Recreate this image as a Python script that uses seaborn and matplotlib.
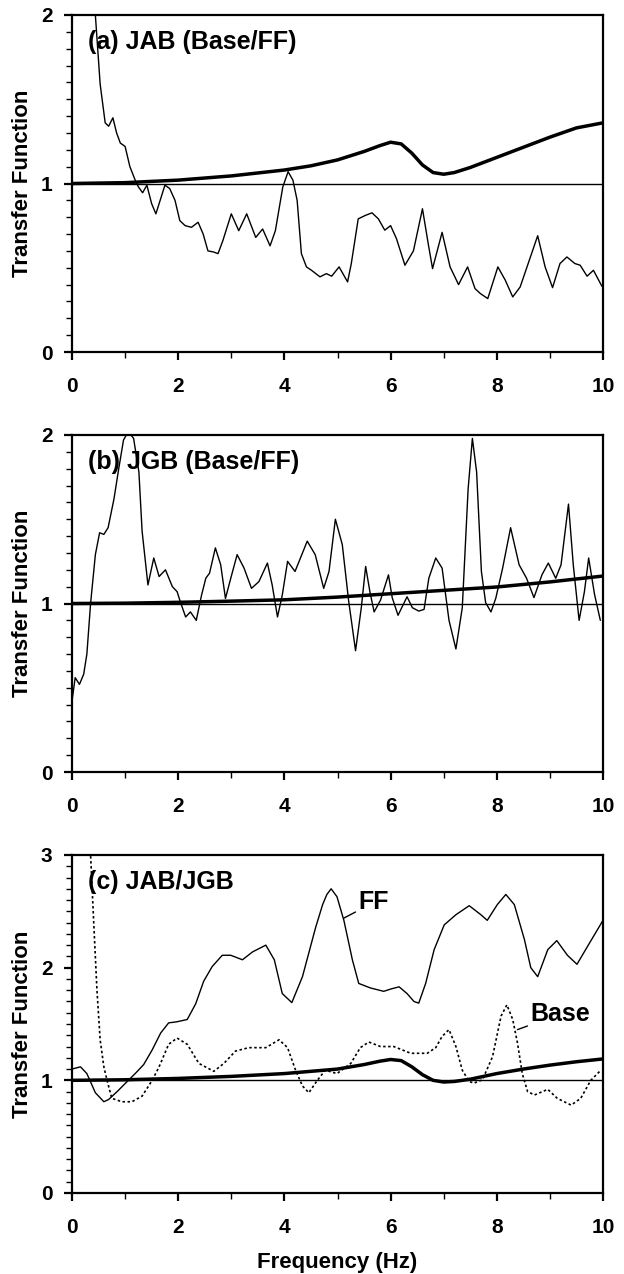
import numpy as np
import pandas as pd
import matplotlib
matplotlib.use("Agg")
import matplotlib.pyplot as plt
from matplotlib.ticker import MultipleLocator
import seaborn as sns

# (a) JAB - measured Base/FF ratio (thin) and model (thick)
a_meas_f = [0.35, 0.44, 0.53, 0.625, 0.69, 0.77, 0.84, 0.91, 1.0, 1.09, 1.19, 1.25, 1.33, 1.41, 1.5,
            1.58, 1.66, 1.75, 1.84, 1.94, 2.03, 2.13, 2.25, 2.375, 2.47, 2.56, 2.66, 2.75, 2.84, 3.0,
            3.14, 3.29, 3.46, 3.59, 3.73, 3.83, 3.97, 4.07, 4.16, 4.24, 4.32, 4.415, 4.51, 4.67, 4.79,
            4.89, 5.03, 5.19, 5.26, 5.39, 5.52, 5.65, 5.77, 5.89, 6.0, 6.11, 6.27, 6.43, 6.6, 6.71,
            6.79, 6.97, 7.12, 7.28, 7.45, 7.59, 7.69, 7.83, 8.02, 8.16, 8.3, 8.44, 8.77, 8.91, 9.05,
            9.19, 9.32, 9.47, 9.57, 9.7, 9.82, 9.98]
a_meas_tf = [2.35, 2.0, 1.59, 1.36, 1.34, 1.39, 1.30, 1.24, 1.22, 1.10, 1.02, 0.98, 0.945, 0.99, 0.88,
             0.82, 0.90, 0.99, 0.97, 0.90, 0.78, 0.75, 0.74, 0.77, 0.70, 0.60, 0.594, 0.584, 0.66, 0.82,
             0.72, 0.82, 0.68, 0.73, 0.63, 0.72, 0.98, 1.07, 1.02, 0.90, 0.584, 0.505, 0.485, 0.446, 0.465,
             0.45, 0.505, 0.416, 0.525, 0.79, 0.81, 0.826, 0.79, 0.723, 0.75, 0.673, 0.515, 0.60, 0.85, 0.64,
             0.495, 0.71, 0.505, 0.40, 0.505, 0.376, 0.347, 0.317, 0.505, 0.426, 0.327, 0.386, 0.69, 0.505, 0.382,
             0.525, 0.564, 0.525, 0.515, 0.45, 0.485, 0.39]
a_model_f = [0, 1, 2, 3, 4, 4.5, 5, 5.5, 5.8, 6.0, 6.2, 6.4, 6.6, 6.8, 7.0, 7.2, 7.5, 8, 8.5, 9, 9.5, 10]
a_model_tf = [1.0, 1.005, 1.02, 1.045, 1.08, 1.105, 1.14, 1.19, 1.225, 1.245, 1.235, 1.18, 1.11, 1.065,
              1.055, 1.065, 1.095, 1.155, 1.215, 1.275, 1.33, 1.36]

# (b) JGB
b_meas_f = [0.0, 0.06, 0.14, 0.22, 0.28, 0.35, 0.44, 0.52, 0.6, 0.68, 0.79, 0.88, 0.97, 1.06, 1.16,
            1.26, 1.32, 1.43, 1.54, 1.64, 1.76, 1.89, 1.98, 2.04, 2.14, 2.23, 2.34, 2.44, 2.52, 2.59,
            2.7, 2.8, 2.89, 2.99, 3.11, 3.24, 3.38, 3.52, 3.68, 3.77, 3.87, 3.96, 4.06, 4.2, 4.43,
            4.58, 4.74, 4.84, 4.96, 5.09, 5.21, 5.34, 5.45, 5.53, 5.61, 5.69, 5.81, 5.96, 6.03, 6.14,
            6.31, 6.41, 6.53, 6.63, 6.72, 6.85, 6.97, 7.1, 7.23, 7.35, 7.46, 7.54, 7.62, 7.71, 7.79,
            7.89, 7.98, 8.11, 8.26, 8.42, 8.56, 8.7, 8.85, 8.97, 9.11, 9.21, 9.35, 9.44, 9.55, 9.65,
            9.73, 9.84, 9.95]
b_meas_tf = [0.42, 0.56, 0.52, 0.58, 0.70, 1.0, 1.29, 1.42, 1.41, 1.45, 1.62, 1.80, 1.97, 2.02, 1.98,
             1.78, 1.43, 1.11, 1.27, 1.16, 1.20, 1.10, 1.07, 1.01, 0.92, 0.95, 0.90, 1.05, 1.15, 1.18,
             1.33, 1.23, 1.03, 1.15, 1.29, 1.21, 1.09, 1.13, 1.24, 1.11, 0.92, 1.05, 1.25, 1.19, 1.37,
             1.29, 1.09, 1.19, 1.50, 1.35, 1.015, 0.72, 0.98, 1.22, 1.07, 0.95, 1.02, 1.17, 1.035, 0.93,
             1.04, 0.975, 0.955, 0.965, 1.15, 1.27, 1.21, 0.90, 0.73, 0.975, 1.68, 1.98, 1.78, 1.19, 1.005,
             0.95, 1.03, 1.21, 1.45, 1.23, 1.15, 1.035, 1.17, 1.24, 1.15, 1.23, 1.59, 1.23, 0.90, 1.07,
             1.27, 1.055, 0.90]
b_model_f = [0, 1, 2, 3, 4, 5, 6, 7, 8, 9, 10]
b_model_tf = [1.0, 1.002, 1.007, 1.014, 1.022, 1.038, 1.058, 1.078, 1.098, 1.128, 1.163]

# (c) JAB/JGB
c_ff_f = [0.0, 0.16, 0.28, 0.44, 0.6, 0.69, 0.85, 1.04, 1.19, 1.35, 1.51, 1.67, 1.82, 1.98, 2.17,
          2.33, 2.48, 2.64, 2.83, 2.99, 3.21, 3.4, 3.65, 3.81, 3.96, 4.14, 4.34, 4.59, 4.72, 4.8,
          4.88, 4.99, 5.12, 5.28, 5.4, 5.62, 5.87, 6.0, 6.16, 6.31, 6.44, 6.53, 6.66, 6.82, 7.01,
          7.23, 7.48, 7.7, 7.82, 8.01, 8.17, 8.33, 8.52, 8.64, 8.77, 8.96, 9.13, 9.33, 9.51, 9.71, 10.0]
c_ff_tf = [1.10, 1.12, 1.06, 0.89, 0.81, 0.83, 0.90, 0.99, 1.06, 1.14, 1.27, 1.42, 1.51, 1.52, 1.54,
           1.68, 1.88, 2.01, 2.11, 2.11, 2.07, 2.14, 2.20, 2.07, 1.77, 1.69, 1.92, 2.36, 2.56, 2.65,
           2.70, 2.63, 2.42, 2.07, 1.86, 1.82, 1.79, 1.81, 1.83, 1.77, 1.70, 1.685, 1.86, 2.16, 2.38,
           2.47, 2.55, 2.47, 2.42, 2.56, 2.65, 2.56, 2.25, 2.00, 1.92, 2.16, 2.24, 2.11, 2.03, 2.19, 2.42]
c_base_f = [0.3, 0.35, 0.41, 0.47, 0.53, 0.6, 0.66, 0.75, 0.94, 1.13, 1.32, 1.51, 1.64, 1.82, 1.98,
            2.17, 2.39, 2.67, 2.86, 3.08, 3.33, 3.65, 3.9, 4.06, 4.21, 4.34, 4.46, 4.62, 4.77, 4.99,
            5.25, 5.43, 5.59, 5.81, 6.06, 6.38, 6.69, 6.85, 6.97, 7.1, 7.23, 7.35, 7.48, 7.57, 7.73,
            7.92, 8.08, 8.19, 8.3, 8.39, 8.48, 8.58, 8.71, 8.96, 9.14, 9.4, 9.58, 9.77, 9.96]
c_base_tf = [3.3, 3.0, 2.39, 1.80, 1.36, 1.12, 1.0, 0.84, 0.81, 0.81, 0.86, 1.0, 1.12, 1.32, 1.375,
             1.32, 1.15, 1.08, 1.15, 1.26, 1.29, 1.29, 1.36, 1.29, 1.09, 0.95, 0.89, 1.0, 1.09, 1.06,
             1.15, 1.29, 1.34, 1.30, 1.30, 1.24, 1.24, 1.29, 1.39, 1.45, 1.30, 1.09, 0.99, 0.975, 1.005,
             1.21, 1.57, 1.67, 1.54, 1.33, 1.06, 0.90, 0.87, 0.92, 0.84, 0.78, 0.84, 1.0, 1.09]
c_model_f = [0, 1, 2, 3, 4, 4.5, 5, 5.5, 5.8, 6.0, 6.2, 6.4, 6.6, 6.8, 7.0, 7.2, 7.5, 8, 8.5, 9, 9.5, 10]
c_model_tf = [1.0, 1.005, 1.017, 1.035, 1.06, 1.08, 1.10, 1.14, 1.17, 1.185, 1.175, 1.12, 1.05, 1.0,
              0.985, 0.99, 1.01, 1.06, 1.10, 1.135, 1.165, 1.19]

panel_titles = ["(a) JAB (Base/FF)", "(b) JGB (Base/FF)", "(c) JAB/JGB"]

sns.set_style("ticks")
plt.rcParams['font.family'] = ['Liberation Sans', 'DejaVu Sans']
plt.rcParams['font.weight'] = 'bold'
plt.rcParams['axes.linewidth'] = 1.6
plt.rcParams['text.color'] = 'black'
plt.rcParams['axes.labelcolor'] = 'black'
plt.rcParams['xtick.color'] = 'black'
plt.rcParams['ytick.color'] = 'black'

fig = plt.figure(figsize=(6.24, 12.74), dpi=100)
W, H = 624, 1274
boxes = [(15, 352), (435, 772), (855, 1193)]
axs = []
for top, bot in boxes:
    axs.append(fig.add_axes([72 / W, 1 - bot / H, 531 / W, (bot - top) / H]))

lw_thin, lw_thick = 1.0, 2.5

# (a)
ax = axs[0]
sns.lineplot(x=a_meas_f, y=a_meas_tf, ax=ax, color='black', lw=lw_thin, sort=False)
sns.lineplot(x=a_model_f, y=a_model_tf, ax=ax, color='black', lw=lw_thick, sort=False)
ax.set_ylim(0, 2)

# (b)
ax = axs[1]
sns.lineplot(x=b_meas_f, y=b_meas_tf, ax=ax, color='black', lw=lw_thin, sort=False)
sns.lineplot(x=b_model_f, y=b_model_tf, ax=ax, color='black', lw=lw_thick, sort=False)
ax.set_ylim(0, 2)

# (c)
ax = axs[2]
sns.lineplot(x=c_ff_f, y=c_ff_tf, ax=ax, color='black', lw=lw_thin, sort=False)
sns.lineplot(x=c_base_f, y=c_base_tf, ax=ax, color='black', lw=1.2, sort=False,
             linestyle=(0, (1.5, 1.5)))
sns.lineplot(x=c_model_f, y=c_model_tf, ax=ax, color='black', lw=lw_thick, sort=False)
ax.set_ylim(0, 3)
ax.annotate("FF", xy=(5.12, 2.44), xytext=(5.40, 2.58), fontsize=18, fontweight='bold',
            va='center', ha='left', arrowprops=dict(arrowstyle='-', color='black', lw=1,
                                                    shrinkA=0, shrinkB=0))
ax.annotate("Base", xy=(8.39, 1.45), xytext=(8.64, 1.59), fontsize=18, fontweight='bold',
            va='center', ha='left', arrowprops=dict(arrowstyle='-', color='black', lw=1,
                                                    shrinkA=0, shrinkB=0))
ax.set_xlabel("Frequency (Hz)", fontsize=16, fontweight='bold')
ax.xaxis.set_label_coords(0.5, -0.175)

for ax, title in zip(axs, panel_titles):
    ax.axhline(1.0, color='black', lw=1.0)
    ax.set_xlim(0, 10)
    ax.xaxis.set_major_locator(MultipleLocator(2))
    ax.xaxis.set_minor_locator(MultipleLocator(1))
    ax.yaxis.set_major_locator(MultipleLocator(1))
    ax.yaxis.set_minor_locator(MultipleLocator(0.1))
    ax.tick_params(which='major', direction='out', length=6, width=1.6, labelsize=15, colors='black')
    ax.tick_params(which='minor', direction='out', length=4, width=1.0)
    ax.tick_params(axis='x', which='major', pad=12)
    ax.tick_params(axis='y', which='major', pad=8)
    for lab in ax.get_xticklabels() + ax.get_yticklabels():
        lab.set_fontweight('bold')
    ax.set_ylabel("Transfer Function", fontsize=16, fontweight='bold')
    ax.yaxis.set_label_coords(-0.0734, 0.5)
    for s in ax.spines.values():
        s.set_visible(True)
        s.set_color('black')
    ax.text(0.03, 0.955, title, transform=ax.transAxes, fontsize=18, fontweight='bold',
            va='top', ha='left')

fig.savefig("out.png", dpi=100)
